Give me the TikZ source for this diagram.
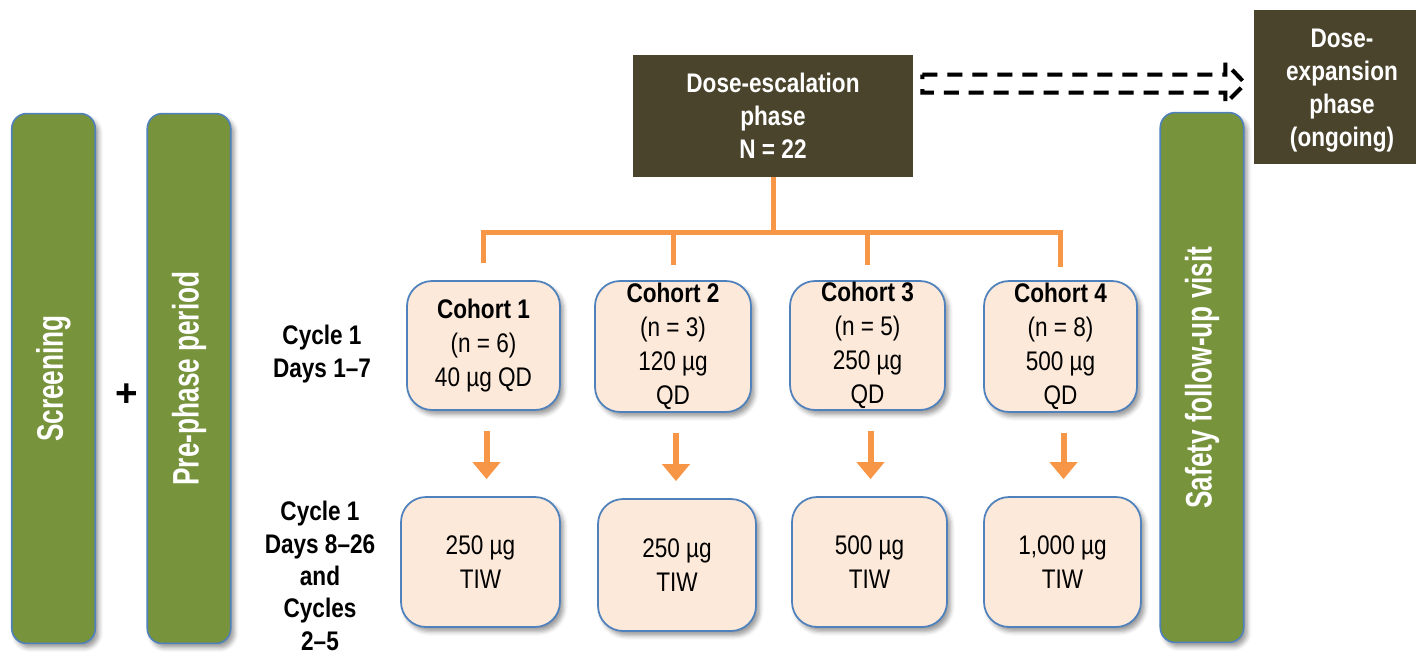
\documentclass[tikz,border=0pt]{standalone}
\usepackage{fontspec}
\setmainfont{Liberation Sans}
\newfontfamily\narrowsf{Liberation Sans}[FakeStretch=0.84]
\newfontfamily\barsf{Liberation Sans}[FakeStretch=0.71]
\usetikzlibrary{arrows.meta,calc,shadows.blur}
\definecolor{bargreen}{HTML}{77933C}
\definecolor{boxline}{HTML}{4F81BD}
\definecolor{phasebrown}{HTML}{4A442C}
\definecolor{boxfill}{HTML}{FDE9D9}
\definecolor{branchorange}{HTML}{F79646}
\tikzset{
  softshadow/.style={blur shadow={shadow xshift=2pt,shadow yshift=-2.5pt,shadow blur radius=2.5pt}},
  bar/.style={draw=boxline,line width=0.9pt,fill=bargreen,rounded corners=0.3cm,
    minimum width=1.67cm,minimum height=10.6cm,softshadow},
  bartext/.style={rotate=90,text=white,font=\barsf\fontsize{21}{25}\selectfont\bfseries},
  phase/.style={fill=phasebrown,text=white,align=center,inner sep=0pt,
    font=\narrowsf\fontsize{15.3}{18.8}\selectfont\bfseries},
  cohort/.style={draw=boxline,line width=1pt,fill=boxfill,rounded corners=0.5cm,
    align=center,inner sep=0pt,font=\narrowsf\fontsize{15.3}{19.3}\selectfont,softshadow},
  cyclelabel/.style={align=center,font=\narrowsf\fontsize{15.3}{18.4}\selectfont\bfseries},
  branch/.style={draw=branchorange,line width=0.1cm},
  stepdown/.style={draw=branchorange,line width=0.12cm,->,shorten <=0.4cm,shorten >=0.34cm},
  dasharr/.style={dashed,dash pattern=on 0.3cm off 0.2cm,line width=0.08cm}
}
\begin{document}
\begin{tikzpicture}[x=0.02cm,y=-0.02cm,>={Triangle[width=0.54cm,length=0.34cm]}]
\useasboundingbox (0,0) rectangle (1416,659);

\node[bar] (scr) at (53.5,378.5) {};
\node[bartext] (scrtxt) at (scr) {Screening};
\node[font=\fontsize{22}{26}\selectfont\bfseries] (plus) at (127,395) {+};
\node[bar] (pre) at (189,378.5) {};
\node[bartext] (pretxt) at (pre) {Pre-phase period};
\node[bar] (saf) at (1202,377.5) {};
\node[bartext] (saftxt) at (saf) {Safety follow-up visit};

\node[phase,minimum width=5.6cm,minimum height=2.44cm] (esc) at (773,116)
  {Dose-escalation\\phase\\N = 22};
\node[phase,minimum width=3.52cm,minimum height=3.1cm] (exp) at (1342,87)
  {\\[-4pt]Dose-\\expansion\\phase\\(ongoing)};

\node[cyclelabel] (cyc1) at (322,354) {Cycle 1\\Days 1–7};
\node[cyclelabel] (cyc2) at (320,576) {Cycle 1\\Days 8–26\\and\\Cycles\\2–5};

\node[cohort,minimum width=3.06cm,minimum height=2.58cm] (c1) at (483.5,345.5)
  {{\bfseries Cohort 1}\\(n = 6)\\40 µg QD};
\node[cohort,minimum width=3.12cm,minimum height=2.62cm] (c2) at (673,346.5)
  {{\bfseries Cohort 2}\\(n = 3)\\120 µg\\QD};
\node[cohort,minimum width=3.10cm,minimum height=2.58cm] (c3) at (867.5,345.5)
  {{\bfseries Cohort 3}\\(n = 5)\\250 µg\\QD};
\node[cohort,minimum width=3.06cm,minimum height=2.62cm] (c4) at (1060.5,346.5)
  {{\bfseries Cohort 4}\\(n = 8)\\500 µg\\QD};

\node[cohort,minimum width=3.18cm,minimum height=2.6cm] (d1) at (480.5,562) {250 µg\\TIW};
\node[cohort,minimum width=3.16cm,minimum height=2.64cm] (d2) at (677,565) {250 µg\\TIW};
\node[cohort,minimum width=3.10cm,minimum height=2.6cm] (d3) at (869.5,562) {500 µg\\TIW};
\node[cohort,minimum width=3.14cm,minimum height=2.6cm] (d4) at (1062.5,562) {1,000 µg\\TIW};

% orange tree under the escalation box
\coordinate (hub) at ($(esc.south)+(0,55)$);
\draw[branch] (esc.south) -- (hub);
\draw[branch] ([yshift=0.34cm]c1.north) |- (hub) -| ([yshift=0.26cm]c4.north);
\draw[branch] (c2.north |- hub) -- ([yshift=0.3cm]c2.north);
\draw[branch] (c3.north |- hub) -- ([yshift=0.3cm]c3.north);

\foreach \i in {1,...,4}
  \draw[stepdown] ([xshift=0.06cm]c\i.south) -- ([xshift=0.06cm]c\i.south |- d\i.north);

% dashed block arrow towards expansion
\draw[dasharr,gray!45,opacity=0.7,shift={(3,5)}] (esc.north east) ++(9,20) -- ++(303,0) -- ++(0,-12)
  -- ++(20,21) -- ++(-20,20) -- ++(0,-11) -- ++(-303,0) -- cycle;
\draw[dasharr] (esc.north east) ++(9,20) -- ++(303,0) -- ++(0,-12)
  -- ++(20,21) -- ++(-20,20) -- ++(0,-11) -- ++(-303,0) -- cycle;

\end{tikzpicture}
\end{document}
